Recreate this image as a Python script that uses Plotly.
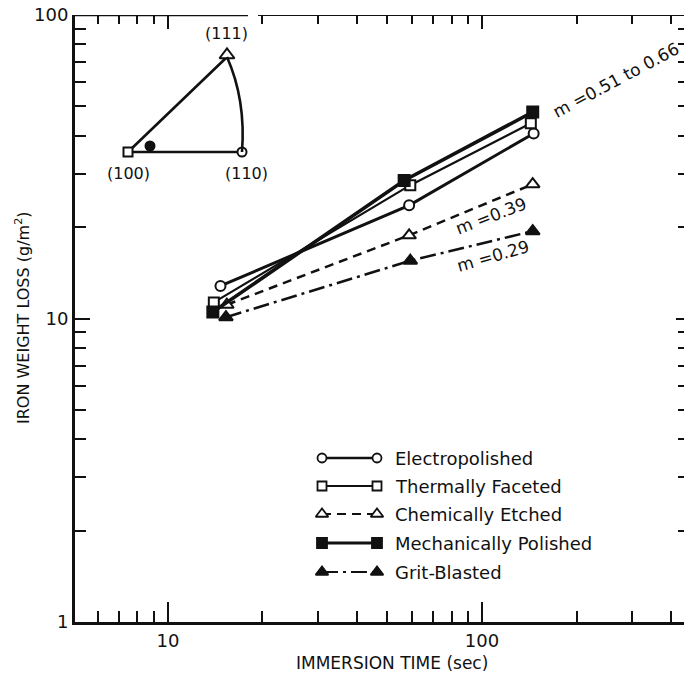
import numpy as np
import plotly.graph_objects as go

# ---- data: iron weight loss (g/m^2) vs immersion time (s) ----
series_names = ["Electropolished", "Thermally Faceted", "Chemically Etched",
                "Mechanically Polished", "Grit-Blasted"]
time_electro = [14.7, 58.6, 146.0]
loss_electro = [12.8, 23.6, 40.7]
time_thermal = [14.0, 59.1, 143.0]
loss_thermal = [11.3, 27.5, 44.0]
time_chem = [15.4, 58.6, 145.0]
loss_chem = [11.1, 18.8, 27.7]
time_mech = [13.9, 56.5, 145.0]
loss_mech = [10.5, 28.5, 47.9]
time_grit = [15.3, 59.1, 145.0]
loss_grit = [10.1, 15.5, 19.4]

x_tick_vals = [10, 100]
x_tick_text = ["10", "100"]
x_minor_vals = [6, 7, 8, 9, 20, 30, 40, 50, 60, 70, 80, 90, 200, 300, 400]
y_tick_vals = [1, 10, 100]
y_tick_text = ["1", "10", "100"]
y_minor_vals = [2, 3, 4, 5, 6, 7, 8, 9, 20, 30, 40, 50, 60, 70, 80, 90]

slope_texts = ["m =0.51 to 0.66", "m =0.39", "m =0.29"]
pole_labels = ["(111)", "(100)", "(110)"]

# ---- layout geometry ----
W, H = 688, 679
L, R, T, B = 75, 684, 15, 622          # frame edges in page pixels
X_RANGE = [np.log10(5.06), 2.643]
Y_RANGE = [0.0, 2.0]
FONT = "DejaVu Sans"
INK = "#111111"


def px(xp, yp):
    """Page pixel -> paper coordinates."""
    return (xp - L) / (R - L), (B - yp) / (B - T)


styles = [
    dict(sym="circle", fill="white", size=10, width=3.0, dash="solid"),
    dict(sym="square", fill="white", size=10, width=2.2, dash="solid"),
    dict(sym="triangle-up", fill="white", size=12, width=2.5, dash="9px,6px"),
    dict(sym="square", fill=INK, size=11, width=3.6, dash="solid"),
    dict(sym="triangle-up", fill=INK, size=12, width=2.5, dash="16px,5px,3px,5px"),
]
times = [time_electro, time_thermal, time_chem, time_mech, time_grit]
losses = [loss_electro, loss_thermal, loss_chem, loss_mech, loss_grit]

fig = go.Figure()

for name, t, w, st in zip(series_names, times, losses, styles):
    fig.add_trace(go.Scatter(
        x=t, y=w, name=name, mode="lines+markers",
        line=dict(color=INK, width=st["width"], dash=st["dash"]),
        marker=dict(symbol=st["sym"], size=st["size"], color=st["fill"],
                    line=dict(color=INK, width=2)),
        showlegend=False, hoverinfo="skip", cliponaxis=False,
    ))

# helper traces so the mirrored top / right tick axes are drawn
fig.add_trace(go.Scatter(x=[10], y=[10], xaxis="x3", yaxis="y", mode="markers",
                         marker=dict(opacity=0), showlegend=False, hoverinfo="skip"))
fig.add_trace(go.Scatter(x=[10], y=[10], xaxis="x", yaxis="y3", mode="markers",
                         marker=dict(opacity=0), showlegend=False, hoverinfo="skip"))

# ---- hand-drawn legend inside the frame (pixel overlay axes x2/y2) ----
leg_x0, leg_x1, leg_text_x = 322, 377, 393
leg_rows = [458, 486, 514, 543, 572]
for name, st, yy in zip(series_names, styles, leg_rows):
    fig.add_trace(go.Scatter(
        x=[leg_x0, leg_x1], y=[yy, yy], xaxis="x2", yaxis="y2",
        mode="lines+markers",
        line=dict(color=INK, width=st["width"] * 0.85, dash=st["dash"]),
        marker=dict(symbol=st["sym"], size=st["size"] - 1, color=st["fill"],
                    line=dict(color=INK, width=1.8)),
        showlegend=False, hoverinfo="skip",
    ))
    fig.add_annotation(x=leg_text_x, y=yy, xref="x2", yref="y2", text=name,
                       showarrow=False, xanchor="left", yanchor="middle",
                       font=dict(family=FONT, size=18, color=INK))

# ---- stereographic triangle inset ----
p100 = (128, 152)
p110 = (242, 152)
p111 = (227, 57)
fig.add_trace(go.Scatter(
    x=[p111[0], p100[0], p110[0]], y=[p111[1], p100[1], p110[1]],
    xaxis="x2", yaxis="y2", mode="lines",
    line=dict(color=INK, width=2.6), showlegend=False, hoverinfo="skip"))
fig.add_shape(type="path", xref="x2", yref="y2",
              path=f"M {p111[0]},{p111[1]} Q 246,100 {p110[0]},{p110[1]}",
              line=dict(color=INK, width=2.6))
for pt, sym, sz, fill in [(p100, "square", 9, "white"),
                          ((p111[0], p111[1] - 2), "triangle-up", 13, "white"),
                          (p110, "circle", 9, "white"),
                          ((150, 146), "circle", 9, INK)]:
    fig.add_trace(go.Scatter(
        x=[pt[0]], y=[pt[1]], xaxis="x2", yaxis="y2", mode="markers",
        marker=dict(symbol=sym, size=sz, color=fill, line=dict(color=INK, width=2)),
        showlegend=False, hoverinfo="skip", cliponaxis=False))
for txt, (lx, ly) in zip(pole_labels, [(226, 33), (128, 173), (246, 173)]):
    fig.add_annotation(x=lx, y=ly, xref="x2", yref="y2", text=txt, showarrow=False,
                       font=dict(family=FONT, size=16, color=INK))

# ---- slope annotations ----
for txt, (ax_, ay_), ang in zip(slope_texts,
                                [(616, 80), (491, 216), (493, 256)],
                                [-28, -21, -16]):
    fig.add_annotation(x=ax_, y=ay_, xref="x2", yref="y2", text=txt, showarrow=False,
                       textangle=ang, font=dict(family=FONT, size=17, color=INK))

# ---- axis titles (paper coordinates, outside the frame) ----
tx, ty = px(22, 318)
fig.add_annotation(x=tx, y=ty, xref="paper", yref="paper",
                   xanchor="center", yanchor="middle",
                   text="IRON WEIGHT LOSS (g/m<sup>2</sup>)",
                   showarrow=False, textangle=-90,
                   font=dict(family=FONT, size=16, color=INK))
tx, ty = px(392, 663)
fig.add_annotation(x=tx, y=ty, xref="paper", yref="paper",
                   xanchor="center", yanchor="middle",
                   text="IMMERSION TIME (sec)",
                   showarrow=False, font=dict(family=FONT, size=17, color=INK))

# ---- top border with a small break ----
for xa, xb, lw in [(L, 248, 2.5), (258, R, 1.8)]:
    fig.add_shape(type="line", xref="x2", yref="y2", x0=xa, x1=xb, y0=T, y1=T,
                  line=dict(color=INK, width=lw))

tickfont = dict(family=FONT, size=18, color=INK)
fig.update_layout(
    width=W, height=H,
    margin=dict(l=L, r=W - R, t=T, b=H - B, pad=0),
    paper_bgcolor="white", plot_bgcolor="white",
    showlegend=False,
    xaxis=dict(type="log", range=X_RANGE, tickmode="array", tickvals=x_tick_vals,
               ticktext=x_tick_text, ticks="inside", ticklen=20, tickwidth=2.2,
               tickcolor=INK, showline=True, linewidth=3, linecolor=INK,
               showgrid=False, zeroline=False, tickfont=tickfont,
               minor=dict(tickmode="array", tickvals=x_minor_vals, ticks="inside",
                          ticklen=11, tickwidth=2, tickcolor=INK, showgrid=False)),
    yaxis=dict(type="log", range=Y_RANGE, tickmode="array", tickvals=y_tick_vals,
               ticktext=y_tick_text, ticks="inside", ticklen=15, tickwidth=2.2,
               tickcolor=INK, showline=True, linewidth=3, linecolor=INK,
               showgrid=False, zeroline=False, tickfont=tickfont,
               minor=dict(tickmode="array", tickvals=y_minor_vals, ticks="inside",
                          ticklen=11, tickwidth=2, tickcolor=INK, showgrid=False)),
    xaxis3=dict(type="log", range=X_RANGE, overlaying="x", side="top", anchor="y",
                tickmode="array", tickvals=x_tick_vals, ticks="inside", ticklen=14,
                tickwidth=2, tickcolor=INK, showticklabels=False, showline=False,
                showgrid=False, zeroline=False,
                minor=dict(tickmode="array", tickvals=x_minor_vals, ticks="inside",
                           ticklen=9, tickwidth=2, tickcolor=INK, showgrid=False)),
    yaxis3=dict(type="log", range=Y_RANGE, overlaying="y", side="right", anchor="x",
                tickmode="array", tickvals=y_tick_vals, ticks="inside", ticklen=8,
                tickwidth=2, tickcolor=INK, showticklabels=False, showline=False,
                showgrid=False, zeroline=False,
                minor=dict(tickmode="array", tickvals=y_minor_vals, ticks="inside",
                           ticklen=6, tickwidth=2, tickcolor=INK, showgrid=False)),
    xaxis2=dict(range=[L, R], overlaying="x", anchor="y2", visible=False),
    yaxis2=dict(range=[B, T], overlaying="y", anchor="x2", visible=False),
)

fig.write_html("out.html")
